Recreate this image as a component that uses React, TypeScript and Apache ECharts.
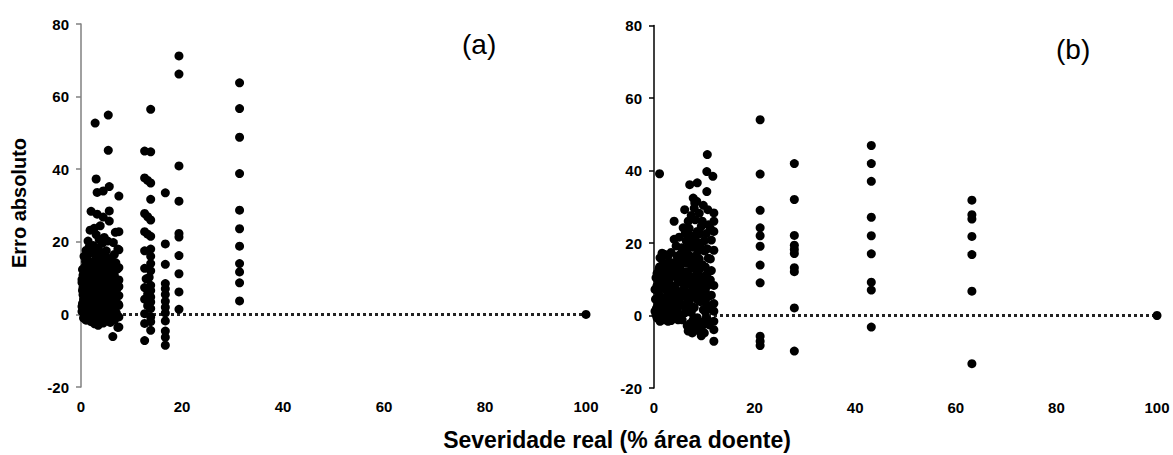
import React, { useEffect, useRef } from "react";
import * as echarts from "echarts";

const yTicks = [-20, 0, 20, 40, 60, 80];
const xTicks = [0, 20, 40, 60, 80, 100];

// Panel (a): [severidade real, erro absoluto]
const panelA: number[][] = [
  [31.4, 63.8], [31.4, 56.7], [31.4, 48.8], [31.4, 38.8], [31.4, 28.7], [31.4, 23.6], [31.4, 18.8], [31.4, 14], [31.4, 11.7], [31.4, 8.7], [31.4, 3.7],
  [19.4, 71.2], [19.4, 66.2], [19.4, 40.9], [19.4, 31.2], [19.4, 22.3], [19.4, 21.3], [19.4, 16.2], [19.4, 11.2], [19.4, 6.2], [19.4, 1.4],
  [16.7, 33.5], [16.7, 19.4], [16.7, 13.8], [16.7, 8.5], [16.7, 7.1], [16.7, 5.5], [16.7, 3.6], [16.7, 2], [16.7, 0.4], [16.7, -1.8], [16.7, -4.6], [16.7, -6.3], [16.7, -8.5],
  [13.8, 56.5], [13.8, 44.8], [13.8, 36.2], [13.8, 31.7], [13.8, 26], [13.8, 21.5], [13.8, 18], [13.8, 16], [13.8, 14], [13.8, 12], [13.8, 8], [13.8, 6.6], [13.8, 4.8], [13.8, 3.4], [13.8, 1.6], [13.8, -0.7], [13.8, -2], [13.8, -4.4],
  [12.6, 45], [12.6, 37.6], [12.6, 27.8], [12.6, 22.8], [12.6, 17.5], [12.6, 12.7], [12.6, 7.4], [12.6, 4.2], [12.6, 0.2], [12.6, -2.5], [12.6, -7.2],
  [13.2, 36.9], [13.2, 26.9], [13.2, 22.1], [13.2, 5.6], [13.2, 2.4], [12.9, 9.8], [13.5, 10.2],
  [7.5, 32.6], [7.5, 22.8], [7.5, 17.8], [7.5, 12.9], [7.5, 9.5], [7.5, 7.7], [7.5, 5.2], [7.5, 2.5], [7.5, -0.7], [7.5, -3.5], [6.3, -6.1],
  [2.8, 52.7], [5.4, 54.9], [5.4, 45.2], [3.0, 37.3], [3.2, 33.6], [4.4, 34], [5.6, 35.2], [2, 28.4], [3.2, 27.6], [4.4, 26.8], [5.6, 25.7],
  [2.6, 23.7], [1.8, 23.2], [4.6, 21.2], [3.6, 20.6], [1.6, 18.5], [7.3, 18], [2.4, 19], [3.4, 18.2], [4.2, 19.6], [5, 17.5],
  [0.6, 16], [1.2, 15.2], [2.8, 16.3], [3.8, 15], [5.8, 15.4], [6.6, 16.5], [0.8, 13.2], [1.8, 13.8], [2.6, 12.6], [3.6, 12.2],
  [4.4, 13.5], [5.2, 12], [6.2, 13], [7.2, 12.5], [0.4, 10.8], [1.2, 11], [2.2, 10.4], [3, 9.8], [4, 10.6], [4.8, 9.6], [5.6, 10.2],
  [6.6, 10.8], [7.4, 9.4], [0.2, 8.8], [0.9, 8.4], [1.6, 9.2], [2.4, 8], [3.2, 7.6], [4.2, 8.4], [5, 7.4], [5.8, 8], [6.4, 7.2],
  [7.4, 7.6], [0.3, 6.6], [1.1, 6.2], [1.9, 7], [2.7, 5.8], [3.5, 6.2], [4.4, 5.4], [5.4, 5.8], [6.2, 5], [7, 5.6], [0.5, 4.2],
  [1.3, 4.6], [2.1, 3.8], [2.9, 4.4], [3.8, 3.6], [4.6, 4], [5.5, 3.2], [6.4, 3.6], [7.4, 2.8], [0.2, 2.2], [1, 2], [1.8, 2.6],
  [2.6, 1.6], [3.4, 2.2], [4.2, 1.4], [5, 2], [5.8, 1.2], [6.8, 1.8], [0.6, 0.4], [1.4, -0.2], [2.2, 0.6], [3, -0.4], [3.8, 0.2],
  [4.6, -0.6], [5.4, 0.4], [6.2, -0.8], [7.2, -0.5], [1, -1.6], [2, -2], [3.2, -1.6], [4.4, -2.4], [3.4, -3], [5.8, -2.2], [7.3, -3.6],
  [0.4, 5.4], [0.2, 9.6], [2.2, 14.4], [4.8, 14.4], [6.4, 19.8], [1.4, 20.2], [3, 22], [6.8, 22.6], [5.6, 28.5], [3.8, 24.4],
  [0.3, 12.4], [0.9, 14.6], [1.5, 16.8], [2.1, 17.2], [2.9, 14], [3.3, 16.6], [4.1, 17], [4.9, 16], [5.5, 13.8], [6, 11.6],
  [6.9, 14.2], [6.6, 9], [5.9, 6.4], [5.2, 8.8], [4.5, 11.4], [3.9, 8.8], [3.1, 11.6], [2.3, 12], [1.6, 12.6], [0.8, 10],
  [0.4, 7.4], [1.2, 7.8], [2.1, 5.2], [2.9, 7], [3.7, 5], [4.5, 7], [5.2, 4.4], [6, 3], [6.8, 4.2], [7.1, 7],
  [0.3, 3], [1.1, 3.2], [1.7, 5], [2.5, 2.8], [3.2, 3.4], [4, 2.6], [4.8, 3], [5.6, 1.8], [6.4, 1.2], [7, 0.4],
  [0.2, 0.8], [0.9, -0.6], [1.7, 0.2], [2.5, -1], [3.5, -0.8], [4.1, -1.4], [4.9, 0.8], [6.6, -1.6], [5.2, -1.2], [2.7, -2.6],
  [1.4, 1.2], [2.4, 2], [3.6, 1.2], [1.9, -1.2], [0.5, -1], [6.1, 2.6], [3.4, 13.2], [4.1, 12.2], [1, 17.6], [5.3, 20.2],
  [100, 0],
];

// Panel (b): [severidade real, erro absoluto]
const panelB: number[][] = [
  [63.2, 31.8], [63.2, 27.8], [63.2, 26.6], [63.2, 21.8], [63.2, 16.8], [63.2, 6.7], [63.2, -13.3],
  [43.2, 46.9], [43.2, 41.9], [43.2, 37], [43.2, 27.1], [43.2, 22], [43.2, 17], [43.2, 9.2], [43.2, 7], [43.2, -3.2],
  [27.9, 41.9], [27.9, 32], [27.9, 22.1], [27.9, 19.4], [27.9, 18.2], [27.9, 17.1], [27.9, 13.2], [27.9, 12.1], [27.9, 2.1], [27.9, -9.8],
  [21.1, 54], [21.1, 39], [21.1, 29], [21.1, 24.2], [21.1, 22], [21.1, 19.1], [21.1, 13.9], [21.1, 9], [21.1, -5.7], [21.1, -7.1], [21.1, -8.3],
  [100, 0],
  [1.1, 39.1], [10.6, 44.4], [10.5, 39.7], [11.7, 38.4], [7.1, 36.1], [8.6, 36.6], [10.5, 34.2], [7.8, 32.4], [8.1, 31], [8.5, 31.5],
  [6.1, 29.2], [10.7, 29.2], [11.9, 28.3], [11.9, 26], [11.9, 23.2], [11.9, 18], [11.9, 8.3], [11.9, 3.3], [11.9, 1.2], [11.9, -1.6],
  [11.9, -3.9], [11.9, -7.1], [10, -4.8], [6.8, -4.3], [4, 26], [4, 21], [2.2, 16.8], [1.2, 15.9], [1.1, 13.4], [3, 13.4], [5.8, 24.2], [5.5, 18.7],
  [0.3, 4.5], [0.5, 2], [0.8, 6.5], [0.4, 0.2], [1, 9], [1.4, 3.5], [1.6, 11.5], [1.8, 1], [2, 7.5], [2.2, -0.6], [2.4, 5], [2.6, 12],
  [2.8, 2.8], [3, 9.6], [3.2, 0.4], [3.4, 6.4], [3.6, 10.8], [3.8, -0.8], [4, 4], [4.2, 8.2], [4.4, 12.6], [4.6, 1.8], [4.8, 6], [5, 15],
  [5.2, -0.4], [5.4, 9.4], [5.6, 3], [5.8, 11.6], [6, 7], [6.2, 0.8], [6.4, 14.4], [6.6, 4.6], [6.8, 18.6], [7, 9.2], [7.2, -2.2], [7.4, 22],
  [7.6, 2.4], [7.8, 13], [8, 6.4], [8.2, 26.4], [8.4, 16.6], [8.6, -0.6], [8.8, 10.6], [9, 20], [9.2, 3.8], [9.4, 24.6], [9.6, 14], [9.8, 8],
  [10, 17.8], [10.2, 1], [10.4, 22.6], [10.6, 11.6], [10.8, 5.2], [11, -2.6], [11.2, 15.6], [11.4, 20.8], [0.6, 8.2], [1.2, 5.4], [1.6, -1],
  [2.2, 3.4], [2.8, 8.8], [3.4, 1.6], [3.8, 13.8], [4.4, -0.2], [5, 2.6], [5.6, 6.8], [6.2, 10.4], [6.8, 1.2], [7.4, 5.4], [8, -3.6],
  [8.6, 12.2], [9.2, -1.8], [9.8, 4.4], [10.4, -0.8], [6.6, -2.8], [7.8, 18.8], [8.4, 8.4], [9, 28.2], [9.6, 26], [6, 16], [6.4, 20.6],
  [7, 24], [5.4, 17.2], [4.6, 16.4], [3.2, 14.6], [2, 13.2], [1, 12.8], [0.4, 10.4], [8.8, -4.2], [7.6, -4.8], [9.4, -5.6], [10.2, 6.8],
  [9, 15.6], [8.2, 21.4], [7.2, 14.2], [6.8, 8.8], [10.8, 25], [11.2, 9.8], [5.2, 5], [3.6, 3.8], [2.4, 10.2], [1.4, 7.6], [0.8, -0.8],
  [0.2, 7.2], [0.6, 11.6], [1.2, 10.6], [1.8, 8.6], [2.4, 7], [3, 5.6], [3.6, 7.8], [4.2, 5.2], [4.8, 9.8], [5.4, 12.4],
  [6, 10], [6.6, 12], [7.2, 10.8], [7.8, 8.8], [8.4, 11], [9, 12.6], [9.6, 10.6], [10.2, 13.4], [10.8, 15.8], [11.4, 12.4],
  [0.2, 1.2], [0.8, 3], [1.4, 1], [2, 1.8], [2.6, 0], [3.2, 2.8], [3.8, 1.4], [4.4, 3.6], [5, 0.4], [5.6, -1.2],
  [6.2, 2.4], [6.8, 3.6], [7.4, 0.8], [8, 2.2], [8.6, 4.4], [9.2, 6], [9.8, 1.6], [10.4, 3.2], [11, 1.8], [11.4, 5.6],
  [1, 11], [1.8, 14.6], [2.6, 9.4], [3.2, 11.8], [4, 14.6], [4.6, 11], [5.2, 13.8], [5.8, 15.2], [6.4, 17.4], [7, 16.6],
  [7.6, 15.6], [8.2, 14.4], [8.8, 17.8], [9.4, 18.6], [10, 20.6], [10.6, 18.4], [11.2, 24], [7.6, 19.8], [8.6, 23.2], [9.2, 22.6],
  [6.4, 6.2], [7, 4], [7.6, 7], [8.2, 9.6], [8.8, 7.4], [9.4, 9], [10, 10], [10.6, 8.2], [5.6, 9], [4.4, 7],
  [0.6, -0.6], [1.2, -1.6], [2, -1.2], [2.8, -1.6], [3.4, -1.4], [4.8, -1.2], [7.8, -1.2], [8.4, -2.4], [9.6, -2.8], [10.8, -1.4],
  [1.6, 17.2], [2.8, 16.4], [3.4, 17.4], [4.4, 19.2], [5, 21.6], [6.2, 22.6], [6.8, 26], [7.4, 27.6], [8, 29.6], [9.8, 30.4],
];

const zeroLine: number[][] = [[0, 0], [100, 0]];

const titles = ["(a)", "(b)"];
const xAxisTitle = "Severidade real (% área doente)";
const yAxisTitle = "Erro absoluto";

const FONT = "'Liberation Sans', Arial, sans-serif";

export default function App() {
  const ref = useRef<HTMLDivElement>(null);
  useEffect(() => {
    if (!ref.current) return;
    const chart = echarts.init(ref.current, null, { renderer: "svg" });
    const labelStyle = { color: "#000", fontWeight: "bold" as const, fontSize: 15, fontFamily: FONT };
    const mkY = (idx: number, lineColor: string) => ({
      type: "value" as const,
      gridIndex: idx,
      min: -20,
      max: 80,
      interval: 20,
      axisLine: { show: true, lineStyle: { color: lineColor, width: 1.5 } },
      axisTick: { show: true, length: 5, lineStyle: { color: lineColor, width: 1.5 } },
      axisLabel: { ...labelStyle, margin: 12, formatter: (v: number) => (yTicks.includes(v) ? String(v) : "") },
      splitLine: { show: false },
    });
    const mkX = (idx: number) => ({
      type: "value" as const,
      gridIndex: idx,
      min: 0,
      max: 100,
      interval: 20,
      axisLine: { show: false, onZero: false },
      axisTick: { show: false },
      axisLabel: { ...labelStyle, margin: 12, formatter: (v: number) => (xTicks.includes(v) ? String(v) : "") },
      splitLine: { show: false },
    });
    const scatter = (idx: number, data: number[][]) => ({
      type: "scatter" as const,
      xAxisIndex: idx,
      yAxisIndex: idx,
      data,
      symbol: "circle",
      symbolSize: 9,
      itemStyle: { color: "#000", opacity: 1 },
      z: 3,
    });
    const zero = (idx: number) => ({
      type: "line" as const,
      xAxisIndex: idx,
      yAxisIndex: idx,
      data: zeroLine,
      symbol: "none",
      lineStyle: { color: "#222", width: 3, type: [3, 3] as any },
      z: 2,
    });
    chart.setOption({
      animation: false,
      backgroundColor: "#fff",
      grid: [
        { left: 81, width: 505, top: 24, bottom: 68 },
        { left: 654, width: 503, top: 25.5, bottom: 67 },
      ],
      xAxis: [mkX(0), mkX(1)],
      yAxis: [mkY(0, "#808080"), mkY(1, "#000")],
      series: [zero(0), scatter(0, panelA), zero(1), scatter(1, panelB)],
      graphic: [
        { type: "text", left: 462, top: 30, style: { text: titles[0], font: `28px ${FONT}`, fill: "#000" } },
        { type: "text", left: 1056, top: 35, style: { text: titles[1], font: `28px ${FONT}`, fill: "#000" } },
        { type: "text", x: 617, y: 440, style: { text: xAxisTitle, font: `bold 23px ${FONT}`, fill: "#000", align: "center", verticalAlign: "middle" } },
        { type: "text", x: 19, y: 203, rotation: Math.PI / 2, style: { text: yAxisTitle, font: `bold 20px ${FONT}`, fill: "#000", align: "center", verticalAlign: "middle" } },
      ],
    });
    return () => chart.dispose();
  }, []);
  return <div ref={ref} style={{ position: "fixed", left: 0, top: 0, width: 1173, height: 455 }} />;
}
